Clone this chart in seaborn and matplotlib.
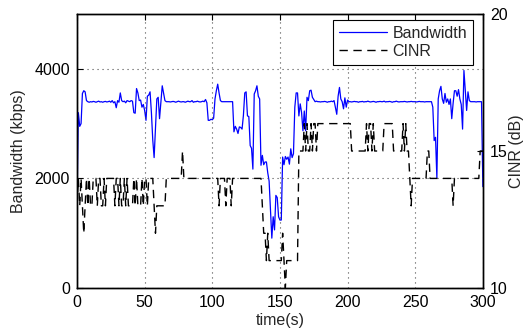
import numpy as np
import pandas as pd
import matplotlib
matplotlib.use("Agg")
import matplotlib.pyplot as plt
import seaborn as sns
from matplotlib.lines import Line2D

# Per-second measurements, t = 0 .. 300 s
time_s = list(range(0, 301))

bandwidth_kbps = [
    1500, 3200, 2950, 3000, 3550, 3600, 3580, 3420, 3400, 3390,
    3400, 3395, 3405, 3400, 3390, 3400, 3410, 3395, 3400, 3390,
    3400, 3405, 3395, 3400, 3410, 3390, 3420, 3380, 3400, 3290,
    3420, 3390, 3560, 3420, 3400, 3410, 3380, 3420, 3410, 3400,
    3420, 3410, 3200, 3190, 3640, 3560, 3420, 3430, 3300, 3350,
    3240, 3060, 3500, 3520, 3580, 3200, 2700, 2380, 2900, 3450,
    3480, 3090, 3400, 3690, 3560, 3420, 3400, 3400, 3400, 3395,
    3400, 3405, 3400, 3390, 3400, 3410, 3400, 3395, 3400, 3400,
    3390, 3400, 3410, 3400, 3400, 3420, 3390, 3400, 3400, 3410,
    3400, 3395, 3400, 3410, 3400, 3440, 3380, 3060, 3060, 3080,
    3070, 3100, 3450, 3600, 3720, 3560, 3420, 3400, 3400, 3400,
    3400, 3400, 3400, 3400, 3400, 3400, 2850, 2950, 2900, 2820,
    2940, 2930, 2900, 3150, 3560, 3580, 3140, 3130, 2600, 2550,
    2170, 3540, 3600, 3690, 3500, 3450, 2240, 2420, 2250, 2300,
    2300, 2100, 1950, 1430, 910, 1300, 1060, 1690, 1650, 1300,
    1240, 1240, 2390, 2250, 2400, 2350, 2390, 2260, 2540, 2380,
    2450, 3300, 3560, 3560, 3140, 3360, 3200, 2870, 3230, 2870,
    3480, 3420, 3600, 3610, 3480, 3440, 3400, 3410, 3400, 3400,
    3395, 3400, 3400, 3405, 3400, 3390, 3400, 3400, 3410, 3400,
    3420, 3300, 3170, 3500, 3660, 3450, 3400, 3270, 3470, 3300,
    3430, 3400, 3400, 3395, 3400, 3405, 3400, 3400, 3390, 3400,
    3400, 3405, 3395, 3400, 3400, 3410, 3400, 3395, 3400, 3405,
    3400, 3390, 3400, 3400, 3405, 3400, 3400, 3410, 3395, 3400,
    3400, 3405, 3400, 3390, 3400, 3400, 3410, 3400, 3395, 3400,
    3400, 3400, 3405, 3400, 3395, 3400, 3400, 3405, 3400, 3400,
    3400, 3395, 3400, 3405, 3400, 3400, 3400, 3395, 3400, 3400,
    3400, 3400, 3400, 3300, 2690, 2750, 2010, 3450, 3600, 3680,
    3450, 3370, 3550, 3390, 3450, 3350, 3450, 3090, 3370, 3600,
    3600, 3500, 3620, 3450, 3350, 2900, 3970, 3600, 3240, 3580,
    3420, 3400, 3400, 3400, 3400, 3395, 3400, 3400, 3400, 3400,
    1850,
]

cinr_db = [
    13, 14, 13, 14, 13, 12, 13, 14, 13, 14,
    13, 13, 14, 14, 14, 13, 14, 14, 13, 13,
    14, 13, 14, 14, 14, 14, 14, 14, 13, 14,
    14, 13, 14, 13, 13, 14, 13, 14, 13, 13,
    13, 13, 14, 13, 14, 13, 13, 13, 14, 13,
    14, 14, 13, 14, 14, 14, 14, 13, 12, 13,
    13, 13, 13, 13, 13, 13, 14, 14, 14, 14,
    14, 14, 14, 14, 14, 14, 14, 14, 15, 14,
    14, 14, 14, 14, 14, 14, 14, 14, 14, 14,
    14, 14, 14, 14, 14, 14, 14, 14, 14, 14,
    14, 14, 14, 14, 14, 13, 14, 14, 14, 14,
    13, 14, 14, 14, 13, 14, 14, 14, 14, 14,
    14, 14, 14, 14, 14, 14, 14, 14, 14, 14,
    14, 14, 14, 14, 14, 14, 14, 13, 12, 12,
    11, 12, 11, 11, 11, 11, 11, 11, 11, 11,
    11, 11, 12, 11, 10, 11, 11, 11, 11, 11,
    11, 11, 11, 11, 15, 15, 15, 15, 16, 15,
    16, 15, 15, 16, 15, 16, 16, 15, 16, 16,
    16, 16, 16, 16, 16, 16, 16, 16, 16, 16,
    16, 16, 16, 16, 16, 16, 16, 16, 16, 16,
    16, 16, 16, 15, 15, 15, 15, 15, 15, 15,
    15, 15, 15, 15, 16, 15, 16, 16, 15, 16,
    15, 15, 15, 15, 15, 15, 15, 16, 16, 16,
    16, 16, 16, 16, 15, 15, 15, 15, 15, 15,
    15, 16, 15, 16, 15, 15, 14, 13, 14, 14,
    14, 14, 14, 14, 14, 14, 14, 14, 14, 15,
    15, 14, 14, 14, 14, 14, 14, 14, 14, 14,
    14, 14, 14, 14, 14, 14, 14, 14, 13, 14,
    14, 14, 14, 14, 14, 14, 14, 14, 14, 14,
    14, 14, 14, 14, 14, 14, 14, 14, 15, 15,
    15,
]

x_ticks = [0, 50, 100, 150, 200, 250, 300]
bw_ticks = [0, 2000, 4000]
cinr_ticks = [10, 15, 20]

df = pd.DataFrame({"time": time_s, "bandwidth": bandwidth_kbps, "cinr": cinr_db})

sns.set_style("white")
plt.rcParams["font.family"] = ["Liberation Sans", "DejaVu Sans"]
plt.rcParams["font.size"] = 11.5

fig = plt.figure(figsize=(5.26, 3.29), dpi=100)
ax1 = fig.add_axes([0.1464, 0.1246, 0.918 - 0.1464, 0.9574 - 0.1246])
ax2 = ax1.twinx()

sns.lineplot(data=df, x="time", y="bandwidth", ax=ax1, color="#0000ff",
             linewidth=0.9, legend=False)
sns.lineplot(data=df, x="time", y="cinr", ax=ax2, color="black",
             linewidth=1.0, legend=False)
cinr_line = ax2.lines[0]
cinr_line.set_dashes([6, 4])

ax1.set_xlim(0, 300)
ax1.set_ylim(0, 5000)
ax2.set_ylim(10, 20)
ax1.set_xticks(x_ticks)
ax1.set_yticks(bw_ticks)
ax2.set_yticks(cinr_ticks)

ax1.set_xlabel("time(s)", labelpad=2)
ax1.set_ylabel("Bandwidth (kbps)", labelpad=6)
ax2.set_ylabel("CINR (dB)", labelpad=1)

# dotted grid in the style of the left axis
ax1.grid(True, linestyle=(0, (1, 3.5)), color="0.3", linewidth=0.8)
ax1.set_axisbelow(False)

for ax in (ax1, ax2):
    for sp in ax.spines.values():
        sp.set_color("black")
        sp.set_linewidth(1.0)
ax1.tick_params(direction="in", length=4, width=0.8, colors="black",
                labelsize=11.5, pad=5, top=True)
ax2.tick_params(direction="in", length=4, width=0.8, colors="black",
                labelsize=11.5, pad=5)

handles = [
    Line2D([], [], color="#0000ff", linewidth=0.9),
    Line2D([], [], color="black", linewidth=1.0, dashes=[6, 4]),
]
leg = ax2.legend(handles, ["Bandwidth", "CINR"], loc="upper right",
                 bbox_to_anchor=(0.983, 0.99), fancybox=False, frameon=True,
                 edgecolor="black", framealpha=1, handlelength=3.0,
                 handletextpad=0.35, borderpad=0.35, labelspacing=0.22,
                 fontsize=11.5, borderaxespad=0.2)
leg.get_frame().set_linewidth(0.8)

fig.savefig("out.png", dpi=100)
